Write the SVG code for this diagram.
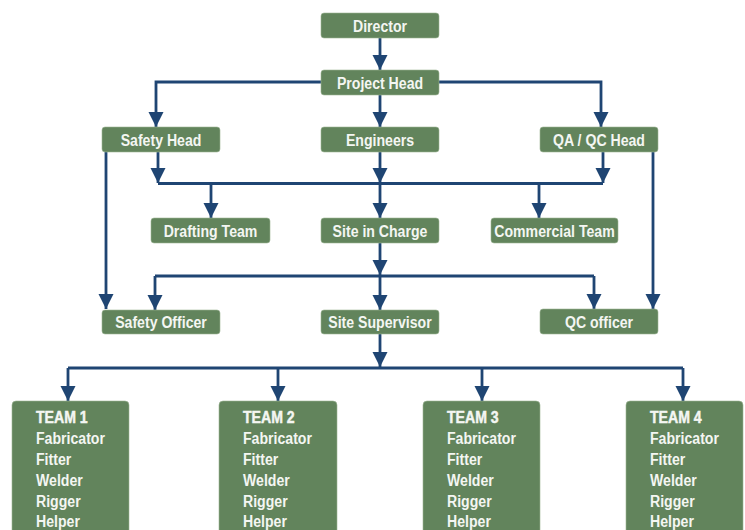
<svg xmlns="http://www.w3.org/2000/svg" width="745" height="530" viewBox="0 0 745 530">
<defs>
<marker id="ah" markerUnits="userSpaceOnUse" markerWidth="16" markerHeight="16" viewBox="0 0 16 16" refX="15" refY="8" orient="auto">
<path d="M0,0.5 L15,8 L0,15.5 Z" fill="#1f4573"/>
</marker>
</defs>
<style>
.box{fill:#62845c;stroke:#9db596;stroke-width:0.6}
.lbl{font-family:"Liberation Sans",Arial,sans-serif;font-weight:bold;font-size:17px;fill:#f4f6f2;text-anchor:middle}
.tm{font-family:"Liberation Sans",Arial,sans-serif;font-weight:bold;font-size:17px;fill:#f4f6f2}
.tt{stroke:#f4f6f2;stroke-width:0.5}
.c{fill:none;stroke:#1f4573;stroke-width:2.8}
.a{marker-end:url(#ah)}
</style>
<rect width="745" height="530" fill="#ffffff"/>
<g id="connectors">
<path class="c a" d="M380,38 V70"/>
<path class="c a" d="M321,82 H156 V127"/>
<path class="c a" d="M439,82 H601 V127"/>
<path class="c a" d="M380,95 V127"/>
<path class="c a" d="M158,152 V183"/>
<path class="c a" d="M603,152 V183"/>
<path class="c" d="M158,183.5 H603"/>
<path class="c a" d="M380,152 V183"/>
<path class="c a" d="M380,183 V218"/>
<path class="c a" d="M211,183 V218"/>
<path class="c a" d="M539,183 V218"/>
<path class="c a" d="M106,152 V309"/>
<path class="c a" d="M653,152 V309"/>
<path class="c a" d="M380,243 V275"/>
<path class="c" d="M155,276 H594"/>
<path class="c a" d="M155,276 V310"/>
<path class="c a" d="M380,276 V310"/>
<path class="c a" d="M594,276 V309"/>
<path class="c a" d="M380,334 V367"/>
<path class="c" d="M68,368 H683"/>
<path class="c a" d="M68,368 V401"/>
<path class="c a" d="M278,368 V401"/>
<path class="c a" d="M482,368 V401"/>
<path class="c a" d="M683,368 V401"/>
</g>
<g id="director"><rect class="box" x="321" y="13" width="118" height="25" rx="3"/><text class="lbl" transform="translate(380,31.5) scale(0.83,1)">Director</text></g>
<g id="project-head"><rect class="box" x="321" y="70" width="118" height="25" rx="3"/><text class="lbl" transform="translate(380,88.5) scale(0.83,1)">Project Head</text></g>
<g id="safety-head"><rect class="box" x="102" y="127" width="118" height="25" rx="3"/><text class="lbl" transform="translate(161,145.5) scale(0.83,1)">Safety Head</text></g>
<g id="engineers"><rect class="box" x="321" y="127" width="118" height="25" rx="3"/><text class="lbl" transform="translate(380,145.5) scale(0.83,1)">Engineers</text></g>
<g id="qa-qc-head"><rect class="box" x="540" y="127" width="118" height="25" rx="3"/><text class="lbl" transform="translate(599,145.5) scale(0.83,1)">QA / QC Head</text></g>
<g id="drafting-team"><rect class="box" x="151" y="218" width="119" height="25" rx="3"/><text class="lbl" transform="translate(210.5,236.5) scale(0.83,1)">Drafting Team</text></g>
<g id="site-in-charge"><rect class="box" x="321" y="218" width="118" height="25" rx="3"/><text class="lbl" transform="translate(380,236.5) scale(0.83,1)">Site in Charge</text></g>
<g id="commercial-team"><rect class="box" x="491" y="218" width="127" height="25" rx="3"/><text class="lbl" transform="translate(554.5,236.5) scale(0.83,1)">Commercial Team</text></g>
<g id="safety-officer"><rect class="box" x="102" y="310" width="118" height="24" rx="3"/><text class="lbl" transform="translate(161,328) scale(0.83,1)">Safety Officer</text></g>
<g id="site-supervisor"><rect class="box" x="321" y="310" width="118" height="24" rx="3"/><text class="lbl" transform="translate(380,328) scale(0.83,1)">Site Supervisor</text></g>
<g id="qc-officer"><rect class="box" x="540" y="309" width="118" height="25" rx="3"/><text class="lbl" transform="translate(599,327.5) scale(0.83,1)">QC officer</text></g>
<g id="team-1"><rect class="box" x="12" y="401" width="117" height="145" rx="4"/>
<text class="tm" transform="translate(36,0) scale(0.83,1)"><tspan class="tt" x="0" y="423">TEAM 1</tspan><tspan x="0" y="444">Fabricator</tspan><tspan x="0" y="465">Fitter</tspan><tspan x="0" y="486">Welder</tspan><tspan x="0" y="507">Rigger</tspan><tspan x="0" y="527.5">Helper</tspan></text></g>
<g id="team-2"><rect class="box" x="219" y="401" width="118" height="145" rx="4"/>
<text class="tm" transform="translate(243,0) scale(0.83,1)"><tspan class="tt" x="0" y="423">TEAM 2</tspan><tspan x="0" y="444">Fabricator</tspan><tspan x="0" y="465">Fitter</tspan><tspan x="0" y="486">Welder</tspan><tspan x="0" y="507">Rigger</tspan><tspan x="0" y="527.5">Helper</tspan></text></g>
<g id="team-3"><rect class="box" x="423" y="401" width="117" height="145" rx="4"/>
<text class="tm" transform="translate(447,0) scale(0.83,1)"><tspan class="tt" x="0" y="423">TEAM 3</tspan><tspan x="0" y="444">Fabricator</tspan><tspan x="0" y="465">Fitter</tspan><tspan x="0" y="486">Welder</tspan><tspan x="0" y="507">Rigger</tspan><tspan x="0" y="527.5">Helper</tspan></text></g>
<g id="team-4"><rect class="box" x="626" y="401" width="117" height="145" rx="4"/>
<text class="tm" transform="translate(650,0) scale(0.83,1)"><tspan class="tt" x="0" y="423">TEAM 4</tspan><tspan x="0" y="444">Fabricator</tspan><tspan x="0" y="465">Fitter</tspan><tspan x="0" y="486">Welder</tspan><tspan x="0" y="507">Rigger</tspan><tspan x="0" y="527.5">Helper</tspan></text></g>
</svg>
